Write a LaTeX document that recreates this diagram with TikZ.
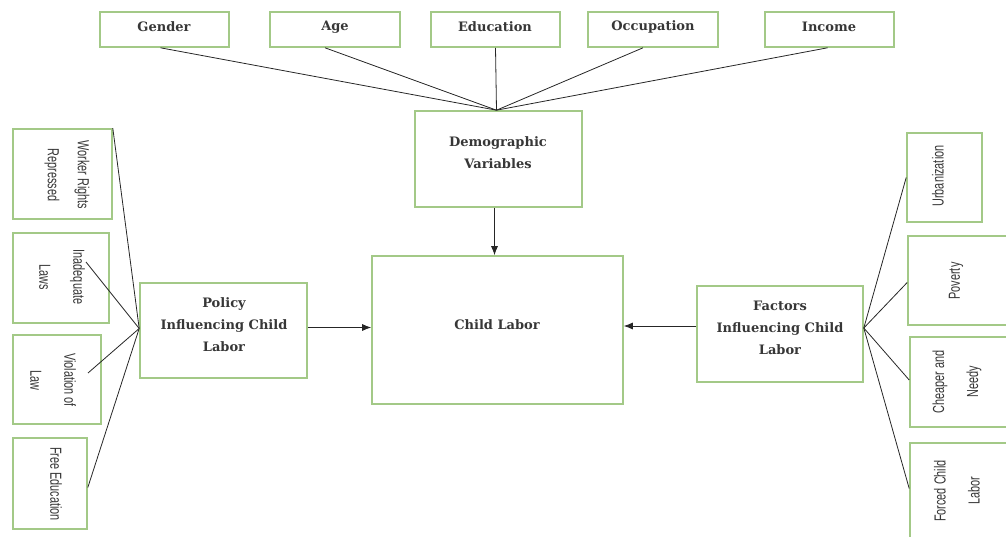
\documentclass[tikz,border=0pt]{standalone}
\usepackage{fontspec}
\setmainfont{DejaVu Serif}
\newfontfamily\narrowfont[FakeStretch=0.68]{Liberation Sans}
\usetikzlibrary{arrows.meta,calc}
\definecolor{boxgreen}{RGB}{163,201,135}
\definecolor{txtgray}{RGB}{55,55,55}
\tikzset{
  box/.style={draw=boxgreen, line width=1.6pt, rectangle, inner sep=0pt, fill=white},
  htxt/.style={font=\bfseries\fontsize{13}{22}\selectfont, text=txtgray, align=center, inner sep=0pt},
  vtxt/.style={font=\narrowfont\fontsize{16}{#1}\selectfont, text=txtgray, align=center, inner sep=0pt},
  vtxt/.default=34,
  conn/.style={draw=black!85, line width=0.8pt},
  arr/.style={conn, -{Latex[length=9pt,width=7pt]}},
}
\begin{document}
\begin{tikzpicture}[x=1pt,y=-1pt]
\useasboundingbox (0,0) rectangle (1006,537);
\clip (0,0) rectangle (1006,537);
% top boxes
\node[box, minimum width=129pt, minimum height=35pt] (gen) at (164.5,29.5) {};
\node[box, minimum width=130pt, minimum height=35pt] (age) at (335,29.5) {};
\node[box, minimum width=129pt, minimum height=35pt] (edu) at (495.5,29.5) {};
\node[box, minimum width=130pt, minimum height=35pt] (occ) at (653,29.5) {};
\node[box, minimum width=129pt, minimum height=35pt] (inc) at (829.5,29.5) {};
\node[htxt] (gen-t) at (164,27) {Gender};
\node[htxt] (age-t) at (335,27) {Age};
\node[htxt] (edu-t) at (495,27) {Education};
\node[htxt] (occ-t) at (653,27) {Occupation};
\node[htxt] (inc-t) at (829,27) {Income};
% central boxes
\node[box, minimum width=167pt, minimum height=96pt] (demo) at (498.5,159) {};
\node[htxt] (demo-t) at (498,153) {Demographic\\Variables};
\node[box, minimum width=251pt, minimum height=148pt] (child) at (497.5,330) {};
\node[htxt] (child-t) at (497,325) {Child Labor};
\node[box, minimum width=167pt, minimum height=95pt] (pol) at (223.5,330.5) {};
\node[htxt] (pol-t) at (224,325) {Policy\\Influencing Child\\Labor};
\node[box, minimum width=166pt, minimum height=96pt] (fac) at (780,334) {};
\node[htxt] (fac-t) at (780,328) {Factors\\Influencing Child\\Labor};
% left boxes
\node[box, minimum width=99pt, minimum height=90pt] (wr) at (62.5,174) {};
\node[vtxt=30, rotate=-90] (wr-t) at (67,175) {Worker Rights\\Repressed};
\node[box, minimum width=96pt, minimum height=90pt] (il) at (61,278) {};
\node[vtxt, rotate=-90] (il-t) at (62,277) {Inadequate\\Laws};
\node[box, minimum width=88pt, minimum height=89pt] (vl) at (57,379.5) {};
\node[vtxt, rotate=-90] (vl-t) at (53,380) {Violation of\\Law};
\node[box, minimum width=74pt, minimum height=91pt] (fe) at (50,483.5) {};
\node[vtxt, rotate=-90] (fe-t) at (56,484) {Free Education};
% right boxes
\node[box, minimum width=75pt, minimum height=89pt] (urb) at (944.5,177.5) {};
\node[vtxt, rotate=90] (urb-t) at (938,176) {Urbanization};
\node[box, minimum width=132pt, minimum height=89pt] (pov) at (974,280.5) {};
\node[vtxt, rotate=90] (pov-t) at (956,281) {Poverty};
\node[box, minimum width=130pt, minimum height=90pt] (chp) at (975,382) {};
\node[vtxt, rotate=90] (chp-t) at (957,382) {Cheaper and\\Needy};
\node[box, minimum width=130pt, minimum height=117pt] (frc) at (975,501.5) {};
\node[vtxt, rotate=90] (frc-t) at (957,491) {Forced Child\\Labor};
% connector points
\coordinate (dp) at ([xshift=-2pt]demo.north);
\coordinate (pp) at ([yshift=2pt]pol.west);
\coordinate (fp) at ([yshift=6pt]fac.east);
\coordinate (il-p) at (86,262);
\coordinate (vl-p) at (88,373);
% top connectors
\draw[conn] ([xshift=-4pt]gen.south) -- (dp);
\draw[conn] ([xshift=-10pt]age.south) -- (dp);
\draw[conn] (edu.south) -- (dp);
\draw[conn] ([xshift=-10pt]occ.south) -- (dp);
\draw[conn] ([xshift=-2pt]inc.south) -- (dp);
% left connectors
\draw[conn] (wr.north east) -- (pp);
\draw[conn] (il-p) -- (pp);
\draw[conn] (vl-p) -- (pp);
\draw[conn] ([yshift=-4pt]fe.east) -- (pp);
% right connectors
\draw[conn] (fp) -- (urb.west);
\draw[conn] (fp) -- ([yshift=-2pt]pov.west);
\draw[conn] (fp) -- ([yshift=2pt]chp.west);
\draw[conn] (fp) -- ([yshift=13pt]frc.west);
% arrows
\draw[arr] ([xshift=-4pt]demo.south) -- ([xshift=-4pt]demo.south |- child.north);
\draw[arr] ([yshift=3pt]pol.east) -- ([yshift=3pt]pol.east -| child.west);
\draw[arr] ([yshift=8pt]fac.west) -- ([yshift=8pt]fac.west -| child.east);
\end{tikzpicture}
\end{document}
